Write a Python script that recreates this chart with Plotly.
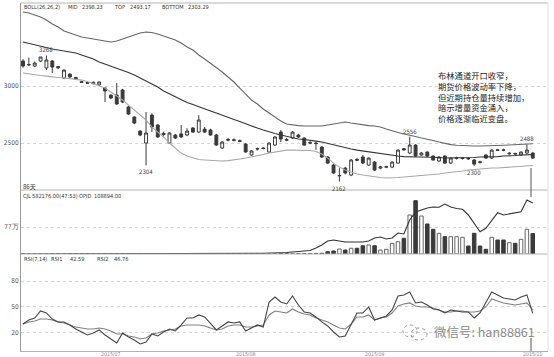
import plotly.graph_objects as go

# ---------------- data ----------------
idx = list(range(88))
opens = [3219, 3185, 3175, 3219, 3158, 3219, 3170, 3070, 3105, 3075,
         3038, 3030, 3020, 3009, 2982, 2921, 2921, 2965, 2816, 2728,
         2605, 2500, 2745, 2658, 2585, 2500, 2570, 2580, 2570, 2631,
         2596, 2622, 2614, 2570, 2456, 2530, 2528, 2520, 2491, 2395,
         2450, 2456, 2421, 2482, 2596, 2530, 2544, 2570, 2544, 2505,
         2500, 2465, 2377, 2307, 2212, 2280, 2219, 2355, 2377, 2307,
         2333, 2280, 2288, 2289, 2324, 2450, 2412, 2482, 2395, 2421,
         2386, 2342, 2386, 2324, 2366, 2364, 2366, 2351, 2335, 2395,
         2368, 2440, 2440, 2405, 2408, 2395, 2412, 2412]
highs = [3235, 3250, 3215, 3255, 3268, 3228, 3175, 3145, 3110, 3080,
         3042, 3035, 3040, 3040, 2990, 2925, 3026, 2975, 2825, 2735,
         2612, 2772, 2760, 2665, 2600, 2595, 2580, 2658, 2630, 2640,
         2745, 2640, 2625, 2580, 2515, 2545, 2540, 2530, 2500, 2435,
         2460, 2465, 2505, 2560, 2614, 2545, 2605, 2580, 2550, 2515,
         2510, 2470, 2385, 2315, 2280, 2290, 2360, 2370, 2395, 2375,
         2340, 2300, 2300, 2340, 2445, 2455, 2556, 2490, 2420, 2425,
         2390, 2385, 2392, 2372, 2380, 2378, 2375, 2360, 2345, 2400,
         2445, 2448, 2450, 2420, 2415, 2425, 2488, 2420]
lows = [3160, 3175, 3170, 3210, 3140, 3114, 3150, 3060, 3070, 3055,
        3028, 3020, 3015, 3000, 2859, 2885, 2835, 2850, 2745, 2665,
        2560, 2304, 2596, 2545, 2560, 2495, 2535, 2545, 2560, 2590,
        2590, 2590, 2565, 2475, 2450, 2515, 2515, 2510, 2415, 2390,
        2435, 2445, 2415, 2475, 2509, 2515, 2535, 2545, 2475, 2490,
        2440, 2370, 2315, 2230, 2162, 2225, 2210, 2340, 2315, 2300,
        2255, 2270, 2280, 2280, 2320, 2435, 2405, 2380, 2390, 2380,
        2345, 2335, 2318, 2318, 2355, 2355, 2352, 2300, 2320, 2360,
        2360, 2430, 2428, 2398, 2398, 2390, 2405, 2360]
closes = [3175, 3188, 3201, 3254, 3228, 3166, 3160, 3140, 3079, 3062,
          3032, 3024, 3032, 3035, 2956, 2895, 2842, 2859, 2754, 2675,
          2570, 2588, 2640, 2553, 2575, 2588, 2544, 2553, 2605, 2596,
          2702, 2596, 2570, 2482, 2509, 2526, 2524, 2515, 2421, 2430,
          2448, 2452, 2500, 2553, 2535, 2526, 2596, 2553, 2482, 2500,
          2495, 2377, 2324, 2237, 2215, 2237, 2351, 2350, 2324, 2368,
          2263, 2290, 2292, 2333, 2438, 2440, 2482, 2386, 2412, 2386,
          2351, 2377, 2324, 2368, 2370, 2368, 2362, 2315, 2331, 2368,
          2438, 2436, 2436, 2410, 2404, 2421, 2438, 2368]

boll_top = [3649, 3640, 3622, 3605, 3579, 3544, 3517, 3482, 3465, 3447,
            3430, 3421, 3412, 3403, 3390, 3386, 3394, 3412, 3430, 3447,
            3465, 3473, 3469, 3456, 3438, 3421, 3403, 3377, 3342, 3316,
            3272, 3237, 3201, 3166, 3123, 3079, 3035, 2982, 2930, 2877,
            2842, 2798, 2763, 2728, 2693, 2667, 2658, 2653, 2649, 2649,
            2649, 2649, 2658, 2667, 2680, 2684, 2675, 2667, 2658, 2653,
            2649, 2640, 2623, 2605, 2592, 2579, 2570, 2557, 2544, 2535,
            2522, 2509, 2496, 2486, 2480, 2476, 2474, 2474, 2474, 2474,
            2476, 2478, 2480, 2482, 2484, 2486, 2489, 2493.17]
boll_mid = [3386, 3373, 3359, 3346, 3333, 3324, 3316, 3307, 3298, 3289,
            3272, 3254, 3237, 3210, 3193, 3175, 3158, 3140, 3118, 3096,
            3070, 3044, 3017, 2991, 2956, 2930, 2903, 2877, 2855, 2837,
            2816, 2798, 2781, 2763, 2746, 2728, 2706, 2688, 2667, 2649,
            2631, 2614, 2596, 2583, 2570, 2557, 2544, 2535, 2531, 2526,
            2517, 2509, 2496, 2482, 2474, 2460, 2447, 2438, 2430, 2421,
            2412, 2408, 2399, 2390, 2386, 2381, 2377, 2377, 2377, 2377,
            2373, 2373, 2368, 2368, 2368, 2368, 2373, 2373, 2377, 2377,
            2377, 2381, 2386, 2386, 2390, 2395, 2395, 2398.23]
boll_bot = [3114, 3105, 3096, 3092, 3087, 3079, 3074, 3070, 3066, 3061,
            3052, 3039, 3022, 3000, 2982, 2947, 2912, 2877, 2833, 2789,
            2746, 2702, 2640, 2596, 2553, 2500, 2456, 2412, 2386, 2368,
            2355, 2351, 2346, 2342, 2342, 2346, 2351, 2360, 2368, 2377,
            2386, 2399, 2412, 2421, 2430, 2438, 2438, 2438, 2438, 2434,
            2425, 2403, 2368, 2324, 2289, 2263, 2246, 2228, 2219, 2211,
            2202, 2197, 2193, 2193, 2197, 2202, 2206, 2211, 2215, 2219,
            2224, 2228, 2237, 2241, 2246, 2254, 2263, 2268, 2272, 2276,
            2281, 2281, 2285, 2289, 2294, 2298, 2302, 2303.29]

volume = [3000, 2000, 2500, 1500, 3000, 2000, 1000, 2500, 1500, 2000,
          1000, 1500, 2000, 1000, 3000, 2500, 3500, 3000, 2500, 3000,
          4000, 5000, 4000, 3500, 3000, 4000, 3000, 3500, 3000, 4500,
          5000, 4000, 4500, 5000, 4000, 3500, 3000, 4000, 6000, 5000,
          4000, 3500, 6000, 8000, 9000, 7000, 8000, 7000, 9000, 8000,
          12000, 20000, 66000, 86000, 143000, 114000, 163000, 163000, 237000, 257000,
          237000, 114000, 134000, 305000, 351000, 448000, 1112000, 1520000, 1084000, 856000,
          704000, 590000, 494000, 494000, 494000, 476000, 228000, 590000, 228000, 134000,
          476000, 399000, 399000, 322000, 305000, 419000, 704000, 582176]
open_interest = [60, 70, 90, 100, 120, 150, 160, 170, 200, 210,
                 230, 240, 250, 270, 290, 300, 320, 330, 350, 360,
                 380, 400, 420, 430, 450, 470, 480, 500, 520, 540,
                 550, 570, 590, 610, 620, 640, 660, 900, 1100, 1300,
                 1500, 1700, 1900, 2200, 2500, 3200, 4300, 5300, 6400, 7500,
                 12800, 19200, 27800, 29900, 27800, 25600, 25600, 25600, 25600, 27800,
                 34200, 36300, 32000, 34200, 44800, 42700, 72600, 89700, 93900, 98200,
                 100300, 99700, 106750, 100300, 97100, 95400, 83300, 64000, 47600, 54900,
                 72600, 88200, 83300, 85400, 87500, 90300, 115300, 108894]

rsi1 = [30.2, 34.9, 37.2, 45.3, 43.0, 36.0, 32.6, 32.6, 29.1, 24.4,
        20.9, 17.4, 19.8, 23.3, 17.4, 12.8, 8.1, 19.8, 15.1, 11.6,
        7.0, 9.3, 18.6, 16.3, 20.9, 24.4, 22.1, 29.1, 37.2, 37.2,
        40.7, 38.4, 31.4, 23.3, 27.9, 32.6, 31.4, 32.6, 22.1, 25.6,
        29.1, 26.7, 55.8, 61.6, 55.8, 53.5, 62.8, 52.3, 44.2, 43.0,
        38.4, 32.6, 27.9, 20.9, 15.1, 16.3, 29.1, 43.0, 43.0, 50.0,
        34.9, 37.2, 39.5, 46.5, 62.8, 64.0, 67.4, 54.7, 55.8, 52.3,
        47.7, 46.5, 43.0, 46.5, 45.3, 44.2, 44.2, 37.2, 43.0, 55.8,
        67.4, 64.0, 60.5, 59.3, 58.1, 61.6, 64.0, 42.59]
rsi2 = [30.2, 32.6, 33.7, 36.0, 36.0, 34.9, 32.6, 31.4, 29.1, 26.7,
        25.6, 24.4, 24.4, 25.6, 24.4, 22.1, 18.6, 18.6, 16.3, 15.1,
        12.8, 14.0, 18.6, 19.8, 22.1, 23.3, 24.4, 27.9, 29.1, 29.1,
        29.1, 27.9, 25.6, 23.3, 24.4, 27.9, 29.1, 29.1, 26.7, 26.7,
        27.9, 29.1, 40.7, 45.3, 44.2, 43.0, 47.7, 44.2, 41.9, 40.7,
        37.2, 34.9, 32.6, 29.1, 25.6, 24.4, 30.2, 38.4, 38.4, 40.7,
        34.9, 37.2, 38.4, 43.0, 51.2, 53.5, 54.7, 51.2, 50.0, 50.0,
        48.8, 46.5, 44.2, 44.2, 45.3, 45.3, 44.2, 44.2, 45.3, 50.0,
        59.3, 57.0, 54.7, 53.5, 52.3, 53.5, 54.7, 46.76]

tick_index = [15, 38, 60, 87]
tick_labels = ["2015/07", "2015/08", "2015/09", "2015/10"]
high_label_idx = [4, 66, 86]
low_label_idx = [21, 54, 77]
note_lines = ["布林通道开口收窄，", "期货价格波动率下降，", "但近期持仓量持续增加，",
              "暗示增量资金涌入，", "价格逐渐临近变盘。"]

# ---------------- layout helpers ----------------
W, H = 554, 357
ML, MR, MT, MB = 21, 6, 3, 6
PW, PH = W - ML - MR, H - MT - MB


def px(x):
    return (x - ML) / PW


def py(y):
    return (H - MB - y) / PH


DARK = "#3a3a3a"
TXT = "#333333"
SMALL = "Liberation Sans Narrow, DejaVu Sans Condensed, Liberation Sans, sans-serif"
CJK = "Noto Sans CJK SC"

fig = go.Figure()

fig.add_trace(go.Candlestick(
    x=idx, open=opens, high=highs, low=lows, close=closes,
    increasing=dict(line=dict(color=DARK, width=1), fillcolor="#ffffff"),
    decreasing=dict(line=dict(color=DARK, width=1), fillcolor=DARK),
    whiskerwidth=0, xaxis="x", yaxis="y", showlegend=False, hoverinfo="skip"))

for series, col in [(boll_top, "#666666"), (boll_mid, "#333333"), (boll_bot, "#a8a8a8")]:
    fig.add_trace(go.Scatter(x=idx, y=series, mode="lines",
                             line=dict(color=col, width=1.1),
                             xaxis="x", yaxis="y", showlegend=False, hoverinfo="skip"))

up = [c >= o for o, c in zip(opens, closes)]
fig.add_trace(go.Bar(
    x=idx, y=volume, width=0.6,
    marker=dict(color=["#ffffff" if u else DARK for u in up],
                line=dict(color=["#666666" if u else DARK for u in up], width=1)),
    xaxis="x", yaxis="y2", showlegend=False, hoverinfo="skip"))
fig.add_trace(go.Scatter(x=idx, y=open_interest, mode="lines",
                         line=dict(color="#333333", width=1.1),
                         xaxis="x", yaxis="y4", showlegend=False, hoverinfo="skip"))

fig.add_trace(go.Scatter(x=idx, y=rsi2, mode="lines", line=dict(color="#808080", width=1.1),
                         xaxis="x", yaxis="y3", showlegend=False, hoverinfo="skip"))
fig.add_trace(go.Scatter(x=idx, y=rsi1, mode="lines", line=dict(color="#444444", width=1.1),
                         xaxis="x", yaxis="y3", showlegend=False, hoverinfo="skip"))

grid = dict(showgrid=True, gridcolor="#d4d4d4", griddash="dot", gridwidth=1,
            zeroline=False, showline=True, linecolor="#9a9a9a", linewidth=1,
            ticks="", tickfont=dict(size=6.5, color="#555555", family=SMALL),
            fixedrange=True)

main_top, vol_top, rsi_top = 3, 190, 254
fig.update_layout(
    width=W, height=H,
    margin=dict(l=ML, r=MR, t=MT, b=MB, autoexpand=False),
    paper_bgcolor="white", plot_bgcolor="white",
    bargap=0,
    xaxis=dict(domain=[0, 1], range=[-0.34, 89.6], anchor="y3",
               showgrid=False, zeroline=False, showline=True, linecolor="#b0b0b0",
               ticks="", showticklabels=False, fixedrange=True,
               rangeslider=dict(visible=False)),
    yaxis=dict(domain=[py(vol_top), py(main_top)], range=[2088, 3728],
               tickvals=[2500, 3000], anchor="x", **grid),
    yaxis2=dict(domain=[py(rsi_top), py(vol_top)], range=[0, 1825000],
                tickvals=[770000], ticktext=["77万"], anchor="x", **grid),
    yaxis4=dict(overlaying="y2", range=[0, 136640], visible=False, fixedrange=True),
    yaxis3=dict(domain=[0, py(rsi_top)], range=[-1.2, 111.6],
                tickvals=[20, 50, 80], anchor="x", **grid),
)

shapes = []
for yy in [main_top, vol_top, rsi_top]:
    shapes.append(dict(type="line", xref="paper", yref="paper", x0=0, x1=1,
                       y0=py(yy), y1=py(yy), line=dict(color="#b5b5b5", width=1)))
shapes.append(dict(type="line", xref="paper", yref="paper", x0=1, x1=1, y0=0, y1=1,
                   line=dict(color="#e2e2e2", width=1)))
# cursor marks at the last session
for y0, y1 in [(168, 197), (338, 351)]:
    shapes.append(dict(type="line", xref="paper", yref="paper", x0=px(531), x1=px(531),
                       y0=py(y0), y1=py(y1), line=dict(color="#555555", width=1)))
# WeChat logo
shapes.append(dict(type="circle", xref="paper", yref="paper", x0=px(403), x1=px(417),
                   y0=py(337), y1=py(325), line=dict(color="#9a9a9a", width=1, dash="dot")))
shapes.append(dict(type="circle", xref="paper", yref="paper", x0=px(411), x1=px(427),
                   y0=py(340), y1=py(328), line=dict(color="#9a9a9a", width=1, dash="dot")))
fig.update_layout(shapes=shapes)

ann = []


def text_at(x, y, s, size=5.6, color=TXT, family=SMALL, xanchor="left"):
    ann.append(dict(x=px(x), y=py(y), xref="paper", yref="paper", text=s, showarrow=False,
                    xanchor=xanchor, yanchor="middle", font=dict(size=size, color=color, family=family)))


# panel headers
text_at(22, 7, "BOLL(26,26,2)")
text_at(66, 7, "MID")
text_at(80, 7, f"{boll_mid[-1]:.2f}")
text_at(112, 7, "TOP")
text_at(128, 7, f"{boll_top[-1]:.2f}")
text_at(160, 7, "BOTTOM")
text_at(186, 7, f"{boll_bot[-1]:.2f}")
text_at(21, 186, "86天", size=6, family=CJK)
text_at(21, 196, "CJL")
text_at(30, 196, f"{volume[-1]:.2f}(47:53)")
text_at(77, 196, "OPID")
text_at(92, 196, f"{open_interest[-1]:.2f}")
text_at(22, 259, "RSI(7,14)")
text_at(49, 259, "RSI1")
text_at(68, 259, f"{rsi1[-1]:.2f}")
text_at(95, 259, "RSI2")
text_at(112, 259, f"{rsi2[-1]:.2f}")

# date labels under the time axis
for i, lab in zip(tick_index, tick_labels):
    ann.append(dict(x=i, y=py(353.5), xref="x", yref="paper", text=lab, showarrow=False,
                    xanchor="center", yanchor="middle",
                    font=dict(size=5.2, color="#8a8a8a", family=SMALL)))

# extreme price labels
for i in high_label_idx:
    ann.append(dict(x=i, y=highs[i], xref="x", yref="y", text=f"{highs[i]:.0f}", showarrow=False,
                    xanchor="center", yanchor="bottom", yshift=0,
                    font=dict(size=6, color="#444444", family=SMALL)))
for i in low_label_idx:
    ann.append(dict(x=i, y=lows[i], xref="x", yref="y", text=f"{lows[i]:.0f}", showarrow=False,
                    xanchor="center", yanchor="top", yshift=-1,
                    font=dict(size=6, color="#444444", family=SMALL)))

# commentary (one block)
ann.append(dict(x=px(436), y=py(97), xref="paper", yref="paper",
                text="<br>".join(note_lines), showarrow=False, align="left",
                xanchor="left", yanchor="middle",
                font=dict(size=8.3, color="#222222", family=CJK)))

# watermark
text_at(537, 331, "微信号: han88861", size=12.5, color="#8a8a8a", family=CJK, xanchor="right")

fig.update_layout(annotations=ann)

fig.write_html("out.html",
               config={"displayModeBar": False, "staticPlot": True},
               post_script="document.body.style.margin='0';document.body.style.padding='0';")
